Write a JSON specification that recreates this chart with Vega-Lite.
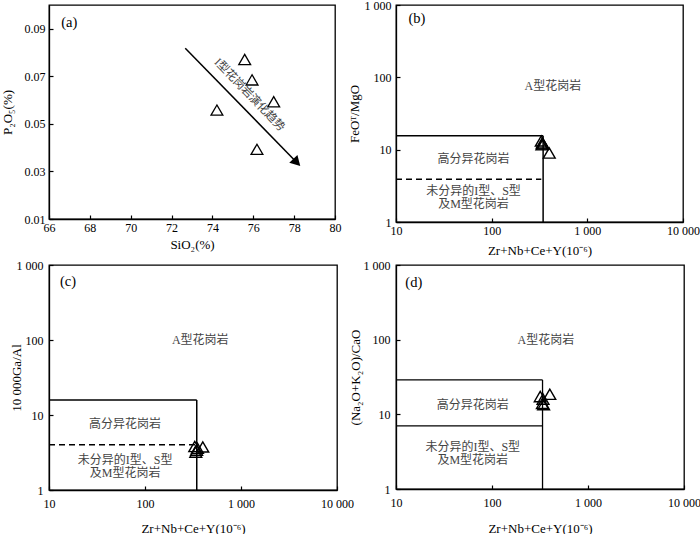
{
  "$schema": "https://vega.github.io/schema/vega-lite/v6.json",
  "padding": {"left": 0, "top": -2, "right": 0, "bottom": 0},
  "columns": 2,
  "spacing": {"row": 43, "column": 59},
  "bounds": "flush",
  "background": "white",
  "datasets": {
    "aPts": [{"x": 75.58, "y": 0.0771}, {"x": 75.94, "y": 0.0685}, {"x": 77.0, "y": 0.0593}, {"x": 74.22, "y": 0.0558}, {"x": 76.18, "y": 0.0393}],
    "aArrow": [{"x": 72.67, "y": 0.0818, "x2": 78.13, "y2": 0.0338}],
    "aHead": [{"x": 78.13, "y": 0.0338}],
    "aText": [{"x": 75.80, "y": 0.0621, "t": "I型花岗岩演化趋势"}],
    "aLabel": [{"x": 66.6, "y": 0.0924, "t": "(a)"}],
    "bPts": [{"x": 330, "y": 13.2}, {"x": 338, "y": 12.4}, {"x": 345, "y": 12.0}, {"x": 335, "y": 11.7}, {"x": 400, "y": 9.0}],
    "bSolid": [{"x": 10, "y": 15.6, "x2": 345, "y2": 15.6}, {"x": 345, "y": 1, "x2": 345, "y2": 15.6}],
    "bDash": [{"x": 10, "y": 3.9, "x2": 330, "y2": 3.9}],
    "bText": [{"x": 437, "y": 76, "t": "A型花岗岩"}, {"x": 64.6, "y": 7.4, "t": "高分异花岗岩"}, {"x": 64.6, "y": 2.68, "t": "未分异的I型、S型"}, {"x": 64.6, "y": 1.76, "t": "及M型花岗岩"}],
    "bLabel": [{"x": 13.5, "y": 632, "t": "(b)"}],
    "cPts": [{"x": 330, "y": 3.8}, {"x": 345, "y": 3.4}, {"x": 338, "y": 3.2}, {"x": 352, "y": 3.6}, {"x": 400, "y": 3.75}],
    "cSolid": [{"x": 10, "y": 15.8, "x2": 346, "y2": 15.8}, {"x": 346, "y": 1, "x2": 346, "y2": 15.8}],
    "cDash": [{"x": 10, "y": 4.0, "x2": 346, "y2": 4.0}],
    "cText": [{"x": 376, "y": 100, "t": "A型花岗岩"}, {"x": 62, "y": 2.53, "t": "未分异的I型、S型"}, {"x": 62, "y": 7.6, "t": "高分异花岗岩"}, {"x": 62, "y": 1.69, "t": "及M型花岗岩"}],
    "cLabel": [{"x": 13, "y": 598, "t": "(c)"}],
    "dPts": [{"x": 318, "y": 17.3}, {"x": 340, "y": 16}, {"x": 335, "y": 14}, {"x": 345, "y": 13.5}, {"x": 400, "y": 18.6}],
    "dSolid": [{"x": 10, "y": 28.9, "x2": 336, "y2": 28.9}, {"x": 10, "y": 7.0, "x2": 336, "y2": 7.0}, {"x": 336, "y": 1, "x2": 336, "y2": 28.9}],
    "dText": [{"x": 364, "y": 99, "t": "A型花岗岩"}, {"x": 63, "y": 13.4, "t": "高分异花岗岩"}, {"x": 63, "y": 3.6, "t": "未分异的I型、S型"}, {"x": 63, "y": 2.41, "t": "及M型花岗岩"}],
    "dLabel": [{"x": 12.5, "y": 568, "t": "(d)"}]
  },
  "config": {
    "view": {"stroke": "black", "strokeWidth": 1.3},
    "axis": {"grid": false, "domainColor": "black", "domainWidth": 1.3, "tickColor": "black", "tickSize": -4, "tickWidth": 1.2, "labelColor": "black", "titleColor": "black", "labelFont": "Liberation Serif", "titleFont": "Liberation Serif", "labelFontSize": 12, "titleFontSize": 13, "titleFontWeight": "normal", "labelFlush": false, "labelOverlap": false}
  },
  "concat": [
    {
      "width": 286, "height": 214,
      "encoding": {
        "x": {"field": "x", "type": "quantitative", "scale": {"domain": [66, 80], "nice": false, "zero": false}, "axis": {"values": [66, 68, 70, 72, 74, 76, 78, 80], "title": "SiO₂(%)", "labelPadding": 7, "titlePadding": 5}},
        "y": {"field": "y", "type": "quantitative", "scale": {"domain": [0.01, 0.1], "nice": false, "zero": false}, "axis": {"values": [0.01, 0.03, 0.05, 0.07, 0.09], "format": ".2f", "title": "P₂O₅(%)", "labelPadding": 8, "titlePadding": 10}}
      },
      "layer": [
        {"data": {"name": "aArrow"}, "mark": {"type": "rule", "color": "black", "strokeWidth": 1.5}, "encoding": {"x2": {"field": "x2"}, "y2": {"field": "y2"}}},
        {"data": {"name": "aHead"}, "mark": {"type": "point", "shape": "triangle-right", "angle": 45.6, "size": 130, "filled": true, "color": "black", "opacity": 1}},
        {"data": {"name": "aPts"}, "mark": {"type": "point", "shape": "triangle-up", "size": 140, "filled": false, "color": "black", "strokeWidth": 1.3, "opacity": 1}},
        {"data": {"name": "aText"}, "mark": {"type": "text", "angle": 46, "font": "Liberation Serif, Noto Sans CJK SC", "fontSize": 11.5, "color": "#444"}, "encoding": {"text": {"field": "t"}}},
        {"data": {"name": "aLabel"}, "mark": {"type": "text", "align": "left", "font": "Liberation Serif", "fontSize": 14.5, "color": "black"}, "encoding": {"text": {"field": "t"}}}
      ]
    },
    {
      "width": 287, "height": 217,
      "encoding": {
        "x": {"field": "x", "type": "quantitative", "scale": {"type": "log", "domain": [10, 10000], "nice": false}, "axis": {"values": [10, 100, 1000, 10000], "labelExpr": "datum.value==1000?'1 000':datum.value==10000?'10 000':format(datum.value,'d')", "title": "Zr+Nb+Ce+Y(10⁻⁶)", "labelPadding": 7, "titlePadding": 8}},
        "y": {"field": "y", "type": "quantitative", "scale": {"type": "log", "domain": [1, 1000], "nice": false}, "axis": {"values": [1, 10, 100, 1000], "labelExpr": "datum.value==1000?'1 000':format(datum.value,'d')", "title": "FeOᵀ/MgO", "labelPadding": 9, "titlePadding": 3}}
      },
      "layer": [
        {"data": {"name": "bSolid"}, "mark": {"type": "rule", "color": "black", "strokeWidth": 1.5}, "encoding": {"x2": {"field": "x2"}, "y2": {"field": "y2"}}},
        {"data": {"name": "bDash"}, "mark": {"type": "rule", "color": "black", "strokeWidth": 1.5, "strokeDash": [6, 4]}, "encoding": {"x2": {"field": "x2"}, "y2": {"field": "y2"}}},
        {"data": {"name": "bPts"}, "mark": {"type": "point", "shape": "triangle-up", "size": 140, "filled": false, "color": "black", "strokeWidth": 1.4, "opacity": 1}},
        {"data": {"name": "bText"}, "mark": {"type": "text", "font": "Liberation Serif, Noto Sans CJK SC", "fontSize": 12, "color": "#444"}, "encoding": {"text": {"field": "t"}}},
        {"data": {"name": "bLabel"}, "mark": {"type": "text", "align": "left", "font": "Liberation Serif", "fontSize": 14.5, "color": "black"}, "encoding": {"text": {"field": "t"}}}
      ]
    },
    {
      "width": 288, "height": 225,
      "encoding": {
        "x": {"field": "x", "type": "quantitative", "scale": {"type": "log", "domain": [10, 10000], "nice": false}, "axis": {"values": [10, 100, 1000, 10000], "labelExpr": "datum.value==1000?'1 000':datum.value==10000?'10 000':format(datum.value,'d')", "title": "Zr+Nb+Ce+Y(10⁻⁶)", "labelPadding": 12, "titlePadding": 13}},
        "y": {"field": "y", "type": "quantitative", "scale": {"type": "log", "domain": [1, 1000], "nice": false}, "axis": {"values": [1, 10, 100, 1000], "labelExpr": "datum.value==1000?'1 000':format(datum.value,'d')", "title": "10 000Ga/Al", "labelPadding": 10, "titlePadding": -7}}
      },
      "layer": [
        {"data": {"name": "cSolid"}, "mark": {"type": "rule", "color": "black", "strokeWidth": 1.5}, "encoding": {"x2": {"field": "x2"}, "y2": {"field": "y2"}}},
        {"data": {"name": "cDash"}, "mark": {"type": "rule", "color": "black", "strokeWidth": 1.5, "strokeDash": [6, 4]}, "encoding": {"x2": {"field": "x2"}, "y2": {"field": "y2"}}},
        {"data": {"name": "cPts"}, "mark": {"type": "point", "shape": "triangle-up", "size": 140, "filled": false, "color": "black", "strokeWidth": 1.4, "opacity": 1}},
        {"data": {"name": "cText"}, "mark": {"type": "text", "font": "Liberation Serif, Noto Sans CJK SC", "fontSize": 12, "color": "#444"}, "encoding": {"text": {"field": "t"}}},
        {"data": {"name": "cLabel"}, "mark": {"type": "text", "align": "left", "font": "Liberation Serif", "fontSize": 14.5, "color": "black"}, "encoding": {"text": {"field": "t"}}}
      ]
    },
    {
      "width": 288, "height": 224,
      "encoding": {
        "x": {"field": "x", "type": "quantitative", "scale": {"type": "log", "domain": [10, 10000], "nice": false}, "axis": {"values": [10, 100, 1000, 10000], "labelExpr": "datum.value==1000?'1 000':datum.value==10000?'10 000':format(datum.value,'d')", "title": "Zr+Nb+Ce+Y(10⁻⁶)", "labelPadding": 12, "titlePadding": 14}},
        "y": {"field": "y", "type": "quantitative", "scale": {"type": "log", "domain": [1, 1000], "nice": false}, "axis": {"values": [1, 10, 100, 1000], "labelExpr": "datum.value==1000?'1 000':format(datum.value,'d')", "title": "(Na₂O+K₂O)/CaO", "labelPadding": 10, "titlePadding": 1}}
      },
      "layer": [
        {"data": {"name": "dSolid"}, "mark": {"type": "rule", "color": "black", "strokeWidth": 1.3}, "encoding": {"x2": {"field": "x2"}, "y2": {"field": "y2"}}},
        {"data": {"name": "dPts"}, "mark": {"type": "point", "shape": "triangle-up", "size": 140, "filled": false, "color": "black", "strokeWidth": 1.4, "opacity": 1}},
        {"data": {"name": "dText"}, "mark": {"type": "text", "font": "Liberation Serif, Noto Sans CJK SC", "fontSize": 12, "color": "#444"}, "encoding": {"text": {"field": "t"}}},
        {"data": {"name": "dLabel"}, "mark": {"type": "text", "align": "left", "font": "Liberation Serif", "fontSize": 14.5, "color": "black"}, "encoding": {"text": {"field": "t"}}}
      ]
    }
  ]
}
